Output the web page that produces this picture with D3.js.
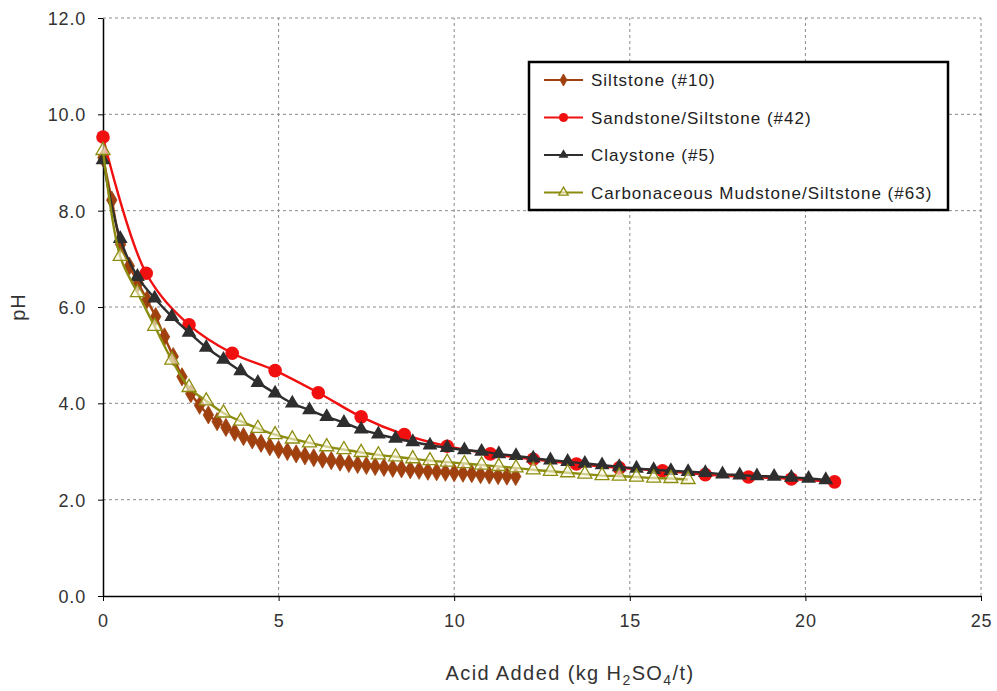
<!DOCTYPE html>
<html>
<head>
<meta charset="utf-8">
<script src="https://cdn.jsdelivr.net/npm/d3@7"></script>
<style>
  html, body { margin: 0; padding: 0; background: #fff; }
  svg { display: block; font-family: "Liberation Sans", Arial, sans-serif; }
</style>
</head>
<body>
<svg id="chart" width="997" height="691"></svg>
<script>
// ---------- DATA ----------
const xTicks = [0, 5, 10, 15, 20, 25];
const yTicks = [0, 2, 4, 6, 8, 10, 12];

const siltstoneX = [0, 0.25, 0.5, 0.75, 1.0, 1.25, 1.5, 1.75, 2.0, 2.25, 2.5, 2.75, 3.0, 3.25, 3.5, 3.75, 4.0, 4.25, 4.5, 4.75, 5.0, 5.25, 5.5, 5.75, 6.0, 6.25, 6.5, 6.75, 7.0, 7.25, 7.5, 7.75, 8.0, 8.25, 8.5, 8.75, 9.0, 9.25, 9.5, 9.75, 10.0, 10.25, 10.5, 10.75, 11.0, 11.25, 11.5, 11.75];
const siltstoneY = [9.1, 8.22, 7.3, 6.85, 6.5, 6.15, 5.8, 5.38, 4.97, 4.55, 4.2, 3.96, 3.76, 3.62, 3.5, 3.4, 3.31, 3.24, 3.17, 3.1, 3.04, 3.0, 2.95, 2.91, 2.87, 2.84, 2.81, 2.78, 2.75, 2.73, 2.71, 2.69, 2.67, 2.65, 2.64, 2.62, 2.61, 2.59, 2.58, 2.57, 2.56, 2.55, 2.54, 2.52, 2.51, 2.5, 2.49, 2.48];

const sandstoneX = [0, 1.23, 2.45, 3.68, 4.9, 6.13, 7.35, 8.58, 9.8, 11.03, 12.25, 13.48, 14.7, 15.93, 17.15, 18.38, 19.6, 20.83];
const sandstoneY = [9.53, 6.7, 5.63, 5.04, 4.68, 4.22, 3.72, 3.35, 3.11, 2.95, 2.84, 2.74, 2.66, 2.6, 2.52, 2.47, 2.43, 2.37];

const claystoneX = [0, 0.49, 0.98, 1.47, 1.96, 2.45, 2.94, 3.43, 3.92, 4.41, 4.9, 5.39, 5.88, 6.37, 6.86, 7.35, 7.84, 8.33, 8.82, 9.31, 9.8, 10.29, 10.78, 11.27, 11.76, 12.25, 12.74, 13.23, 13.72, 14.21, 14.7, 15.19, 15.68, 16.17, 16.66, 17.15, 17.64, 18.13, 18.62, 19.11, 19.6, 20.09, 20.58];
const claystoneY = [9.05, 7.42, 6.63, 6.18, 5.8, 5.47, 5.16, 4.91, 4.67, 4.43, 4.21, 4.0, 3.86, 3.72, 3.6, 3.46, 3.36, 3.27, 3.2, 3.13, 3.08, 3.03, 3.0, 2.95, 2.91, 2.86, 2.82, 2.79, 2.75, 2.72, 2.68, 2.65, 2.62, 2.6, 2.58, 2.56, 2.53, 2.51, 2.49, 2.48, 2.46, 2.44, 2.41];

const carbX = [0, 0.49, 0.98, 1.47, 1.96, 2.45, 2.94, 3.43, 3.92, 4.41, 4.9, 5.39, 5.88, 6.37, 6.86, 7.35, 7.84, 8.33, 8.82, 9.31, 9.8, 10.29, 10.78, 11.27, 11.76, 12.25, 12.74, 13.23, 13.72, 14.21, 14.7, 15.19, 15.68, 16.17, 16.66];
const carbY = [9.25, 7.05, 6.3, 5.6, 4.9, 4.33, 4.05, 3.8, 3.63, 3.48, 3.35, 3.26, 3.18, 3.1, 3.04, 2.98, 2.93, 2.89, 2.85, 2.81, 2.78, 2.75, 2.72, 2.69, 2.66, 2.62, 2.59, 2.56, 2.53, 2.5, 2.49, 2.47, 2.45, 2.44, 2.42];

const seriesNames = ["Siltstone (#10)", "Sandstone/Siltstone (#42)", "Claystone (#5)", "Carbonaceous Mudstone/Siltstone (#63)"];
const seriesColors = ["#A0400F", "#F01010", "#2E2E2E", "#8C8C10"];
const seriesSymbols = ["diamond", "circle", "triangle", "triangleOpen"];

// ---------- LAYOUT ----------
const svg = d3.select("#chart");
const margin = { left: 103, right: 16, top: 18, bottom: 95 };
const W = 997, H = 691;
const x = d3.scaleLinear().domain([0, 25]).range([margin.left, W - margin.right]);
const y = d3.scaleLinear().domain([0, 12]).range([H - margin.bottom, margin.top]);

// gridlines
const grid = svg.append("g");
grid.selectAll("line.gx").data(xTicks.filter(d => d > 0)).enter().append("line")
  .attr("x1", d => x(d)).attr("x2", d => x(d))
  .attr("y1", y(0)).attr("y2", y(12))
  .attr("stroke", "#8a8a8a").attr("stroke-width", 1).attr("stroke-dasharray", "3,3");
grid.selectAll("line.gy").data(yTicks.filter(d => d > 0)).enter().append("line")
  .attr("x1", x(0)).attr("x2", x(25))
  .attr("y1", d => y(d)).attr("y2", d => y(d))
  .attr("stroke", "#8a8a8a").attr("stroke-width", 1).attr("stroke-dasharray", "3,3");

// axes
const xAxis = d3.axisBottom(x).tickValues(xTicks).tickSize(5).tickSizeOuter(0).tickFormat(d3.format("d"));
const yAxis = d3.axisLeft(y).tickValues(yTicks).tickSize(5).tickSizeOuter(0).tickFormat(d3.format(".1f"));

const gx = svg.append("g").attr("transform", `translate(0,${y(0)})`).call(xAxis);
const gy = svg.append("g").attr("transform", `translate(${x(0)},0)`).call(yAxis);
[gx, gy].forEach(g => {
  g.select(".domain").attr("stroke", "#000").attr("stroke-width", 1.5);
  g.selectAll(".tick line").attr("stroke", "#000").attr("stroke-width", 1);
  g.selectAll(".tick text").attr("fill", "#333").style("font-size", "18px")
    .style("letter-spacing", "0.8px")
    .style("font-family", "'Liberation Sans', Arial, sans-serif");
});
gx.selectAll(".tick text").attr("dy", "0").attr("y", 31);
gy.selectAll(".tick text").attr("x", -17).attr("dy", "0.36em");

// axis titles
svg.append("text")
  .attr("transform", `translate(25,${(y(0) + y(12)) / 2}) rotate(-90)`)
  .attr("text-anchor", "middle").attr("fill", "#333")
  .style("font-size", "20px").style("letter-spacing", "1px").text("pH");

const xt = svg.append("text")
  .attr("x", 570).attr("y", 680).attr("text-anchor", "middle").attr("fill", "#333")
  .style("font-size", "20px").style("letter-spacing", "1.4px");
xt.append("tspan").text("Acid Added (kg H");
xt.append("tspan").attr("dy", 5).style("font-size", "14px").text("2");
xt.append("tspan").attr("dy", -5).text("SO");
xt.append("tspan").attr("dy", 5).style("font-size", "14px").text("4");
xt.append("tspan").attr("dy", -5).text("/t)");

// ---------- SERIES ----------
const seriesX = [siltstoneX, sandstoneX, claystoneX, carbX];
const seriesY = [siltstoneY, sandstoneY, claystoneY, carbY];

const line = d3.line().x(d => x(d[0])).y(d => y(d[1])).curve(d3.curveCatmullRom.alpha(0.5));

function drawMarker(g, sym, color, cx, cy, scale) {
  const s = scale || 1;
  if (sym === "diamond") {
    g.append("path").attr("d", d3.symbol(d3.symbolDiamond, 95 * s)()).attr("transform", `translate(${cx},${cy})`)
      .attr("fill", color).attr("stroke", color).attr("stroke-width", 0.8);
  } else if (sym === "circle") {
    g.append("circle").attr("cx", cx).attr("cy", cy).attr("r", 6.8 * Math.sqrt(s))
      .attr("fill", color);
  } else if (sym === "triangle") {
    g.append("path").attr("d", d3.symbol(d3.symbolTriangle, 95 * s)()).attr("transform", `translate(${cx},${cy})`)
      .attr("fill", color);
  } else {
    g.append("path").attr("d", d3.symbol(d3.symbolTriangle, 85 * s)()).attr("transform", `translate(${cx},${cy})`)
      .attr("fill", "#fffbe6").attr("fill-opacity", 0.6).attr("stroke", color).attr("stroke-width", 1.3);
  }
}

const drawOrder = [0, 1, 2, 3];
drawOrder.forEach(i => {
  const pts = seriesX[i].map((v, k) => [v, seriesY[i][k]]);
  const g = svg.append("g");
  g.append("path").datum(pts).attr("d", line).attr("fill", "none")
    .attr("stroke", seriesColors[i]).attr("stroke-width", 2.4);
  pts.forEach(p => drawMarker(g, seriesSymbols[i], seriesColors[i], x(p[0]), y(p[1])));
});

// ---------- LEGEND ----------
const lg = svg.append("g");
lg.append("rect").attr("x", 529).attr("y", 62).attr("width", 419).attr("height", 148)
  .attr("fill", "#fff").attr("stroke", "#000").attr("stroke-width", 2.5);
seriesNames.forEach((name, i) => {
  const ly = 80 + i * 37.5;
  lg.append("line").attr("x1", 544).attr("x2", 583).attr("y1", ly).attr("y2", ly)
    .attr("stroke", seriesColors[i]).attr("stroke-width", 2);
  drawMarker(lg, seriesSymbols[i], seriesColors[i], 563.5, ly, 0.45);
  lg.append("text").attr("x", 591).attr("y", ly + 6).attr("fill", "#222")
    .style("font-size", "17px").style("letter-spacing", "1px").text(name);
});
</script>
</body>
</html>
